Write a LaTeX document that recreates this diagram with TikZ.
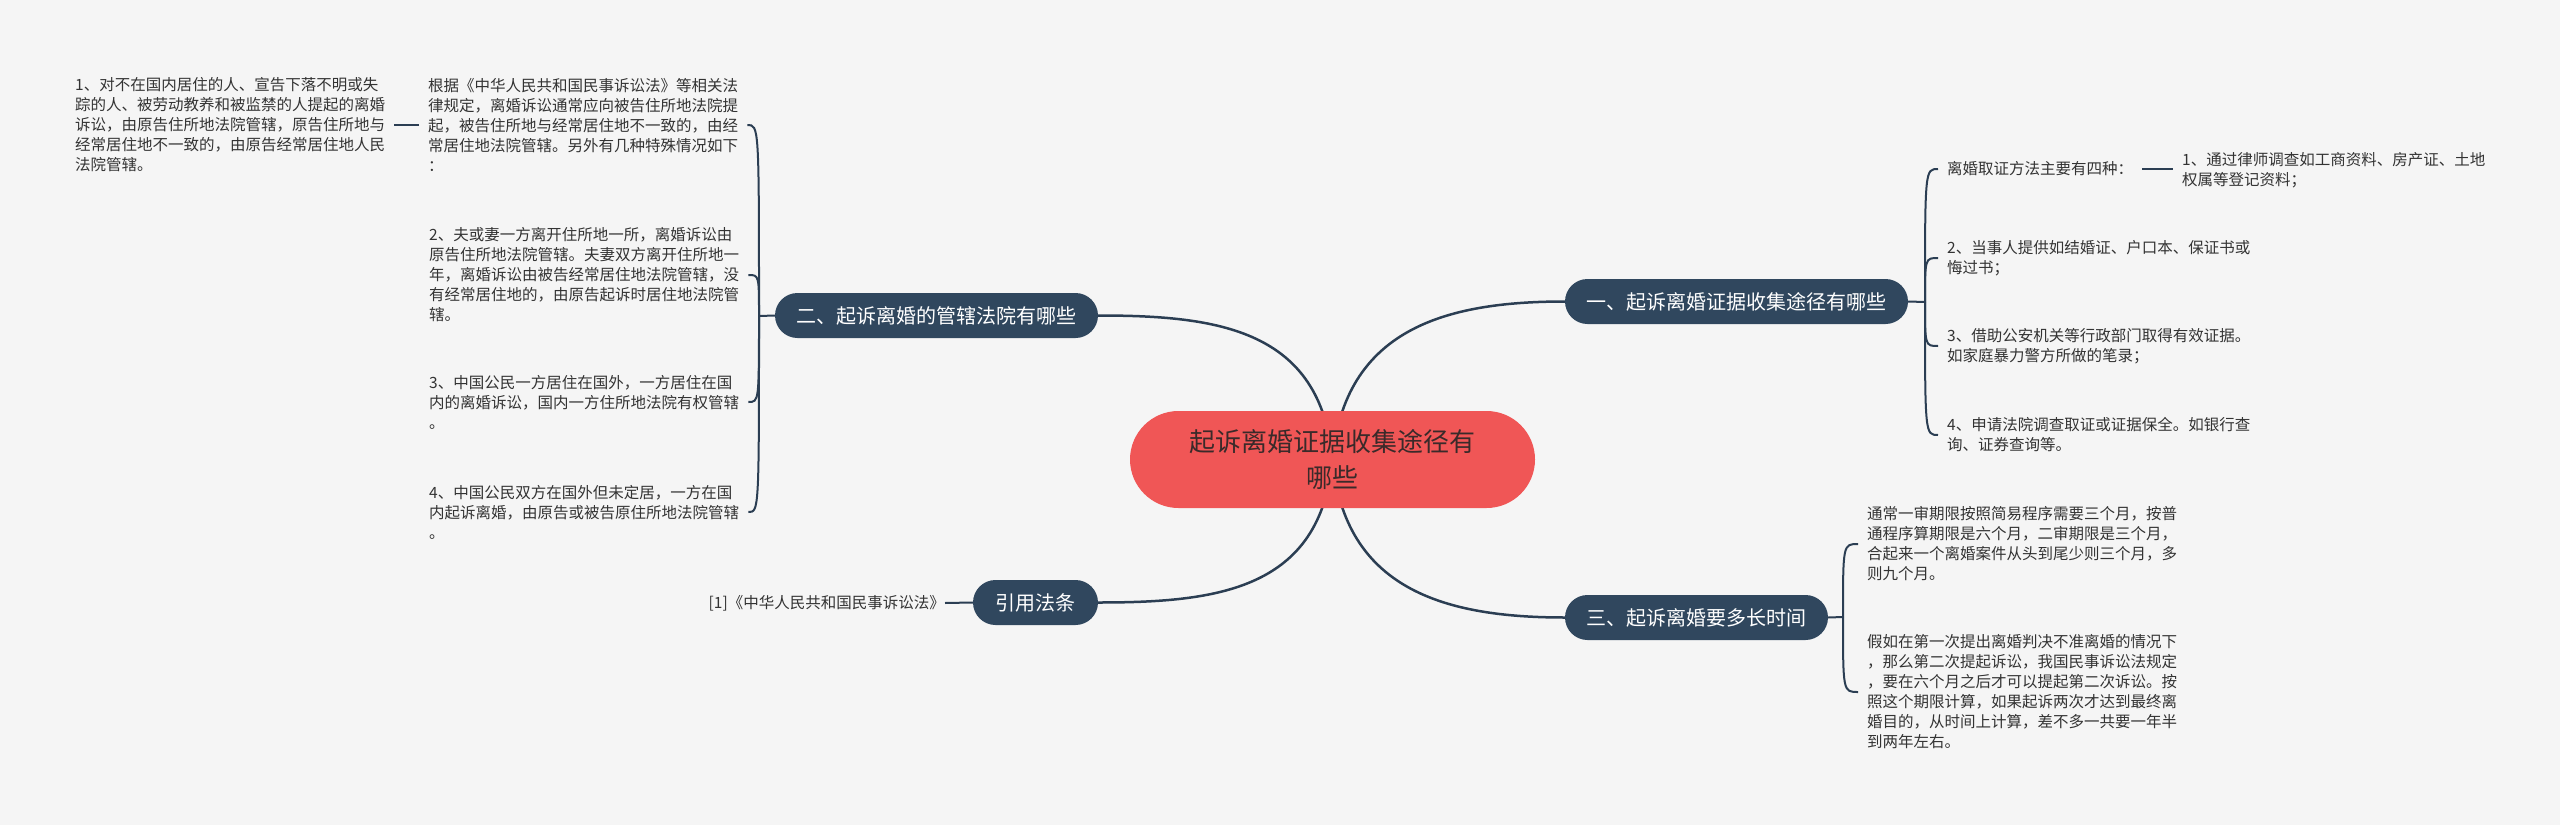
\documentclass[tikz,border=0pt]{standalone}
\usepackage{fontspec}
\newfontfamily\cjk{Noto Sans CJK SC}
\definecolor{cbg}{HTML}{F5F5F5}
\definecolor{cnode}{HTML}{30475E}
\definecolor{cline}{HTML}{2B3E53}
\definecolor{cred}{HTML}{F05656}
\definecolor{ctext}{HTML}{333333}
\definecolor{cctext}{HTML}{3A2A2A}
\pgfdeclarelayer{bg}
\pgfsetlayers{bg,main}
\tikzset{
  conn/.style={draw=cline, line width=2bp},
  mainconn/.style={draw=cline, line width=2.5bp},
  branch/.style={fill=cnode, rounded corners=22.5bp, minimum height=45bp, inner sep=0pt, text=white, font=\cjk\fontsize{20bp}{24bp}\selectfont},
  central/.style={fill=cred, rounded corners=48.5bp, minimum width=405bp, minimum height=97bp, inner sep=0pt, align=center, text=cctext, font=\cjk\fontsize{26bp}{36bp}\selectfont},
  leaf/.style={font=\cjk\fontsize{15.5bp}{20bp}\selectfont, text=ctext, align=left, inner xsep=9bp, inner ysep=0pt},
}
\begin{document}
\begin{tikzpicture}[x=1bp,y=-1bp]
\useasboundingbox (0,0) rectangle (2560,825);
\begin{pgfonlayer}{bg}
\fill[cbg] (0,0) rectangle (2560,825);
\end{pgfonlayer}

% central and branches
\node[central] (c) at (1332.5,459.5) {起诉离婚证据收集途径有\\哪些};
\node[branch, minimum width=323bp] (b2) at (936.5,315.5) {二、起诉离婚的管辖法院有哪些};
\node[branch, minimum width=343bp] (b1) at (1736.5,301.5) {一、起诉离婚证据收集途径有哪些};
\node[branch, minimum width=263bp] (b3) at (1696.5,617.5) {三、起诉离婚要多长时间};
\node[branch, minimum width=125bp] (bq) at (1035.5,602.5) {引用法条};

% left children
\node[leaf, anchor=west] (a1) at (419,125) {根据《中华人民共和国民事诉讼法》等相关法\\律规定，离婚诉讼通常应向被告住所地法院提\\起，被告住所地与经常居住地不一致的，由经\\常居住地法院管辖。另外有几种特殊情况如下\\：};
\node[leaf, anchor=west] (a0) at (66,125) {1、对不在国内居住的人、宣告下落不明或失\\踪的人、被劳动教养和被监禁的人提起的离婚\\诉讼，由原告住所地法院管辖，原告住所地与\\经常居住地不一致的，由原告经常居住地人民\\法院管辖。};
\node[leaf, anchor=west] (a2) at (420,275) {2、夫或妻一方离开住所地一所，离婚诉讼由\\原告住所地法院管辖。夫妻双方离开住所地一\\年，离婚诉讼由被告经常居住地法院管辖，没\\有经常居住地的，由原告起诉时居住地法院管\\辖。};
\node[leaf, anchor=west] (a3) at (420,402) {3、中国公民一方居住在国外，一方居住在国\\内的离婚诉讼，国内一方住所地法院有权管辖\\。};
\node[leaf, anchor=west] (a4) at (420,512) {4、中国公民双方在国外但未定居，一方在国\\内起诉离婚，由原告或被告原住所地法院管辖\\。};

% right children
\node[leaf, anchor=west] (r1) at (1938,169) {离婚取证方法主要有四种：};
\node[leaf, anchor=west] (r1a) at (2173,170) {1、通过律师调查如工商资料、房产证、土地\\权属等登记资料；};
\node[leaf, anchor=west] (r2) at (1938,258) {2、当事人提供如结婚证、户口本、保证书或\\悔过书；};
\node[leaf, anchor=west] (r3) at (1938,346) {3、借助公安机关等行政部门取得有效证据。\\如家庭暴力警方所做的笔录；};
\node[leaf, anchor=west] (r4) at (1938,435) {4、申请法院调查取证或证据保全。如银行查\\询、证券查询等。};

% third branch children
\node[leaf, anchor=west] (t1) at (1858,544) {通常一审期限按照简易程序需要三个月，按普\\通程序算期限是六个月，二审期限是三个月，\\合起来一个离婚案件从头到尾少则三个月，多\\则九个月。};
\node[leaf, anchor=west] (t2) at (1858,692) {假如在第一次提出离婚判决不准离婚的情况下\\，那么第二次提起诉讼，我国民事诉讼法规定\\，要在六个月之后才可以提起第二次诉讼。按\\照这个期限计算，如果起诉两次才达到最终离\\婚目的，从时间上计算，差不多一共要一年半\\到两年左右。};

% reference child
\node[leaf, anchor=east, inner xsep=0pt] (q1) at (945,603) {[1]《中华人民共和国民事诉讼法》};

\coordinate (bl) at (759,316);
\coordinate (br) at (1925,302);
\coordinate (bt) at (1843,617);

\begin{pgfonlayer}{bg}
\draw[mainconn] (c.center) .. controls +(-12,-130) and +(120,0) .. (b2.east);
\draw[mainconn] (c.center) .. controls +(12,-130) and +(-120,0) .. (b1.west);
\draw[mainconn] (c.center) .. controls +(-12,130) and +(120,0) .. (bq.east);
\draw[mainconn] (c.center) .. controls +(12,130) and +(-120,0) .. (b3.west);
\end{pgfonlayer}

% left brackets
\draw[conn] (b2.west) -- (bl);
\draw[conn] (bl) .. controls (bl |- a1.east) .. (a1.east);
\draw[conn] (bl) .. controls (bl |- a2.east) .. (a2.east);
\draw[conn] (bl) .. controls (bl |- a3.east) .. (a3.east);
\draw[conn] (bl) .. controls (bl |- a4.east) .. (a4.east);
\draw[conn] (a1.west) -- (a1.west -| a0.east);

% right brackets
\draw[conn] (b1.east) -- (br);
\draw[conn] (br) .. controls (br |- r1.west) .. (r1.west);
\draw[conn] (br) .. controls (br |- r2.west) .. (r2.west);
\draw[conn] (br) .. controls (br |- r3.west) .. (r3.west);
\draw[conn] (br) .. controls (br |- r4.west) .. (r4.west);
\draw[conn] (r1.east) -- (r1.east -| r1a.west);

% third branch brackets
\draw[conn] (b3.east) -- (bt);
\draw[conn] (bt) .. controls (bt |- t1.west) .. (t1.west);
\draw[conn] (bt) .. controls (bt |- t2.west) .. (t2.west);

% reference
\draw[conn] (bq.west) -- (q1.east);
\end{tikzpicture}
\end{document}
